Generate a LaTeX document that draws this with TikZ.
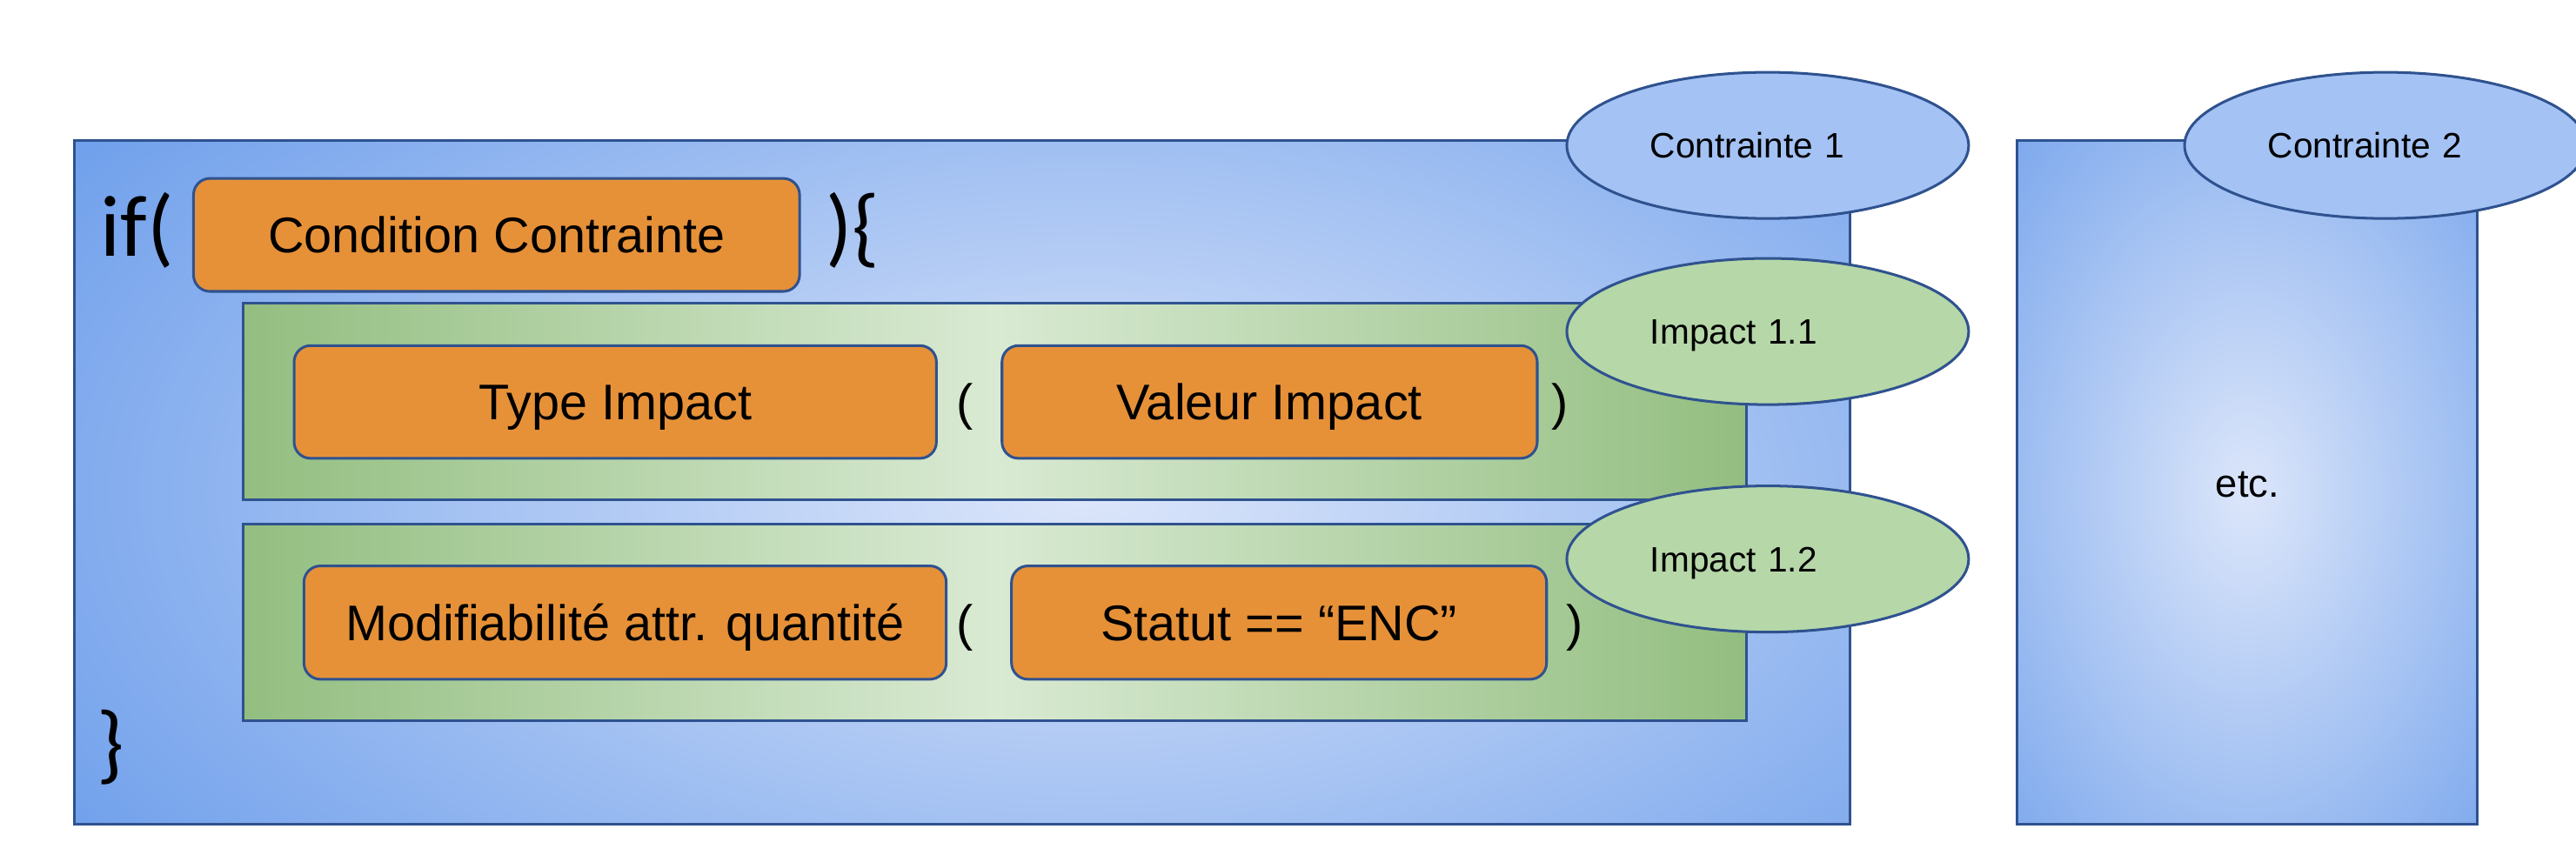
\documentclass[tikz,border=0pt]{standalone}
\usepackage{fontspec}
\setmainfont{Liberation Sans}
\newfontfamily\calib{Carlito}
\usetikzlibrary{shapes.geometric}
\definecolor{bord}{RGB}{47,82,143}
\definecolor{orangeF}{RGB}{230,145,56}
\definecolor{ellB}{RGB}{164,194,244}
\definecolor{ellG}{RGB}{182,215,168}
\definecolor{gEdge}{RGB}{147,190,128}
\definecolor{gMid}{RGB}{217,234,211}
\definecolor{bOut}{RGB}{109,158,235}
\definecolor{bIn}{RGB}{220,230,250}
\pgfdeclareradialshading{glow}{\pgfpoint{0bp}{0bp}}{color(0bp)=(bIn); color(30bp)=(bOut); color(50bp)=(bOut)}
\tikzset{
  bline/.style={draw=bord, line width=1.6pt},
  obox/.style={bline, fill=orangeF, rounded corners=10pt, inner sep=0pt,
    font=\fontsize{30.5}{36}\selectfont, text height=21.8pt, text depth=0pt},
  gbox/.style={bline, left color=gEdge, right color=gEdge, middle color=gMid, inner sep=0pt},
  tag/.style={bline, ellipse, minimum width=244.6pt, minimum height=89pt, inner sep=0pt,
    text width=143pt, align=left, font=\fontsize{21.5}{26}\selectfont,
    text height=15.4pt, text depth=0pt},
  paren/.style={anchor=base west, inner sep=0pt, font=\fontsize{30.5}{36}\selectfont},
  code/.style={anchor=base west, inner sep=0pt, font=\calib\fontsize{53}{60}\selectfont},
}
\begin{document}
\begin{tikzpicture}[x=1pt,y=-1pt]
\useasboundingbox (0,0) rectangle (1568,516.8);
% main constraint box
\begin{scope}
  \clip (45.3,85.5) rectangle (1126.3,502);
  \shade[shading=glow] (30,-30) rectangle (1290,630);
\end{scope}
\node[bline, minimum width=1081pt, minimum height=416.5pt, inner sep=0pt] (c1) at (585.8,293.75) {};
% second constraint box
\begin{scope}
  \clip (1228,85.4) rectangle (1508,502);
  \shade[shading=glow] (1168,2) rectangle (1568,598);
\end{scope}
\node[bline, minimum width=280pt, minimum height=416.6pt, inner sep=0pt] (c2) at (1368,293.7) {};
\node[anchor=base, inner sep=0pt, font=\fontsize{24}{28}\selectfont] (etc) at (1368,302.4) {etc.};
% impact boxes
\node[gbox, minimum width=915pt, minimum height=119.6pt] (g1) at (605.5,244.6) {};
\node[gbox, minimum width=915pt, minimum height=119.9pt] (g2) at (605.5,378.75) {};
% code text
\node[code] (if) at (61,156.2) {if(};
\node[code] (cl) at (502.5,156.2) {)\{};
\node[code] (end) at (59,470.4) {\}};
% orange fields
\node[obox, minimum width=368.9pt, minimum height=68.8pt] (cond) at (302.25,143) {Condition Contrainte};
\node[obox, minimum width=391pt, minimum height=68.6pt] (type) at (374.5,244.7) {Type Impact};
\node[obox, minimum width=325.8pt, minimum height=68.6pt] (val) at (772.8,244.7) {Valeur Impact};
\node[obox, minimum width=391pt, minimum height=69pt] (mod) at (380.5,379) {Modifiabilité attr. quantité};
\node[obox, minimum width=325.7pt, minimum height=69pt] (stat) at (778.55,379) {Statut == “ENC”};
% parentheses
\node[paren] (p1) at (582,255.7) {(};
\node[paren] (p2) at (944.3,255.7) {)};
\node[paren] (p3) at (582,389.9) {(};
\node[paren] (p4) at (953,389.9) {)};
% labels
\node[tag, fill=ellB] (k1) at (1076,88.5) {Contrainte 1};
\node[tag, fill=ellG] (i11) at (1076,201.8) {Impact 1.1};
\node[tag, fill=ellG] (i12) at (1076,340.3) {Impact 1.2};
\node[tag, fill=ellB] (k2) at (1452,88.5) {Contrainte 2};
\end{tikzpicture}
\end{document}
